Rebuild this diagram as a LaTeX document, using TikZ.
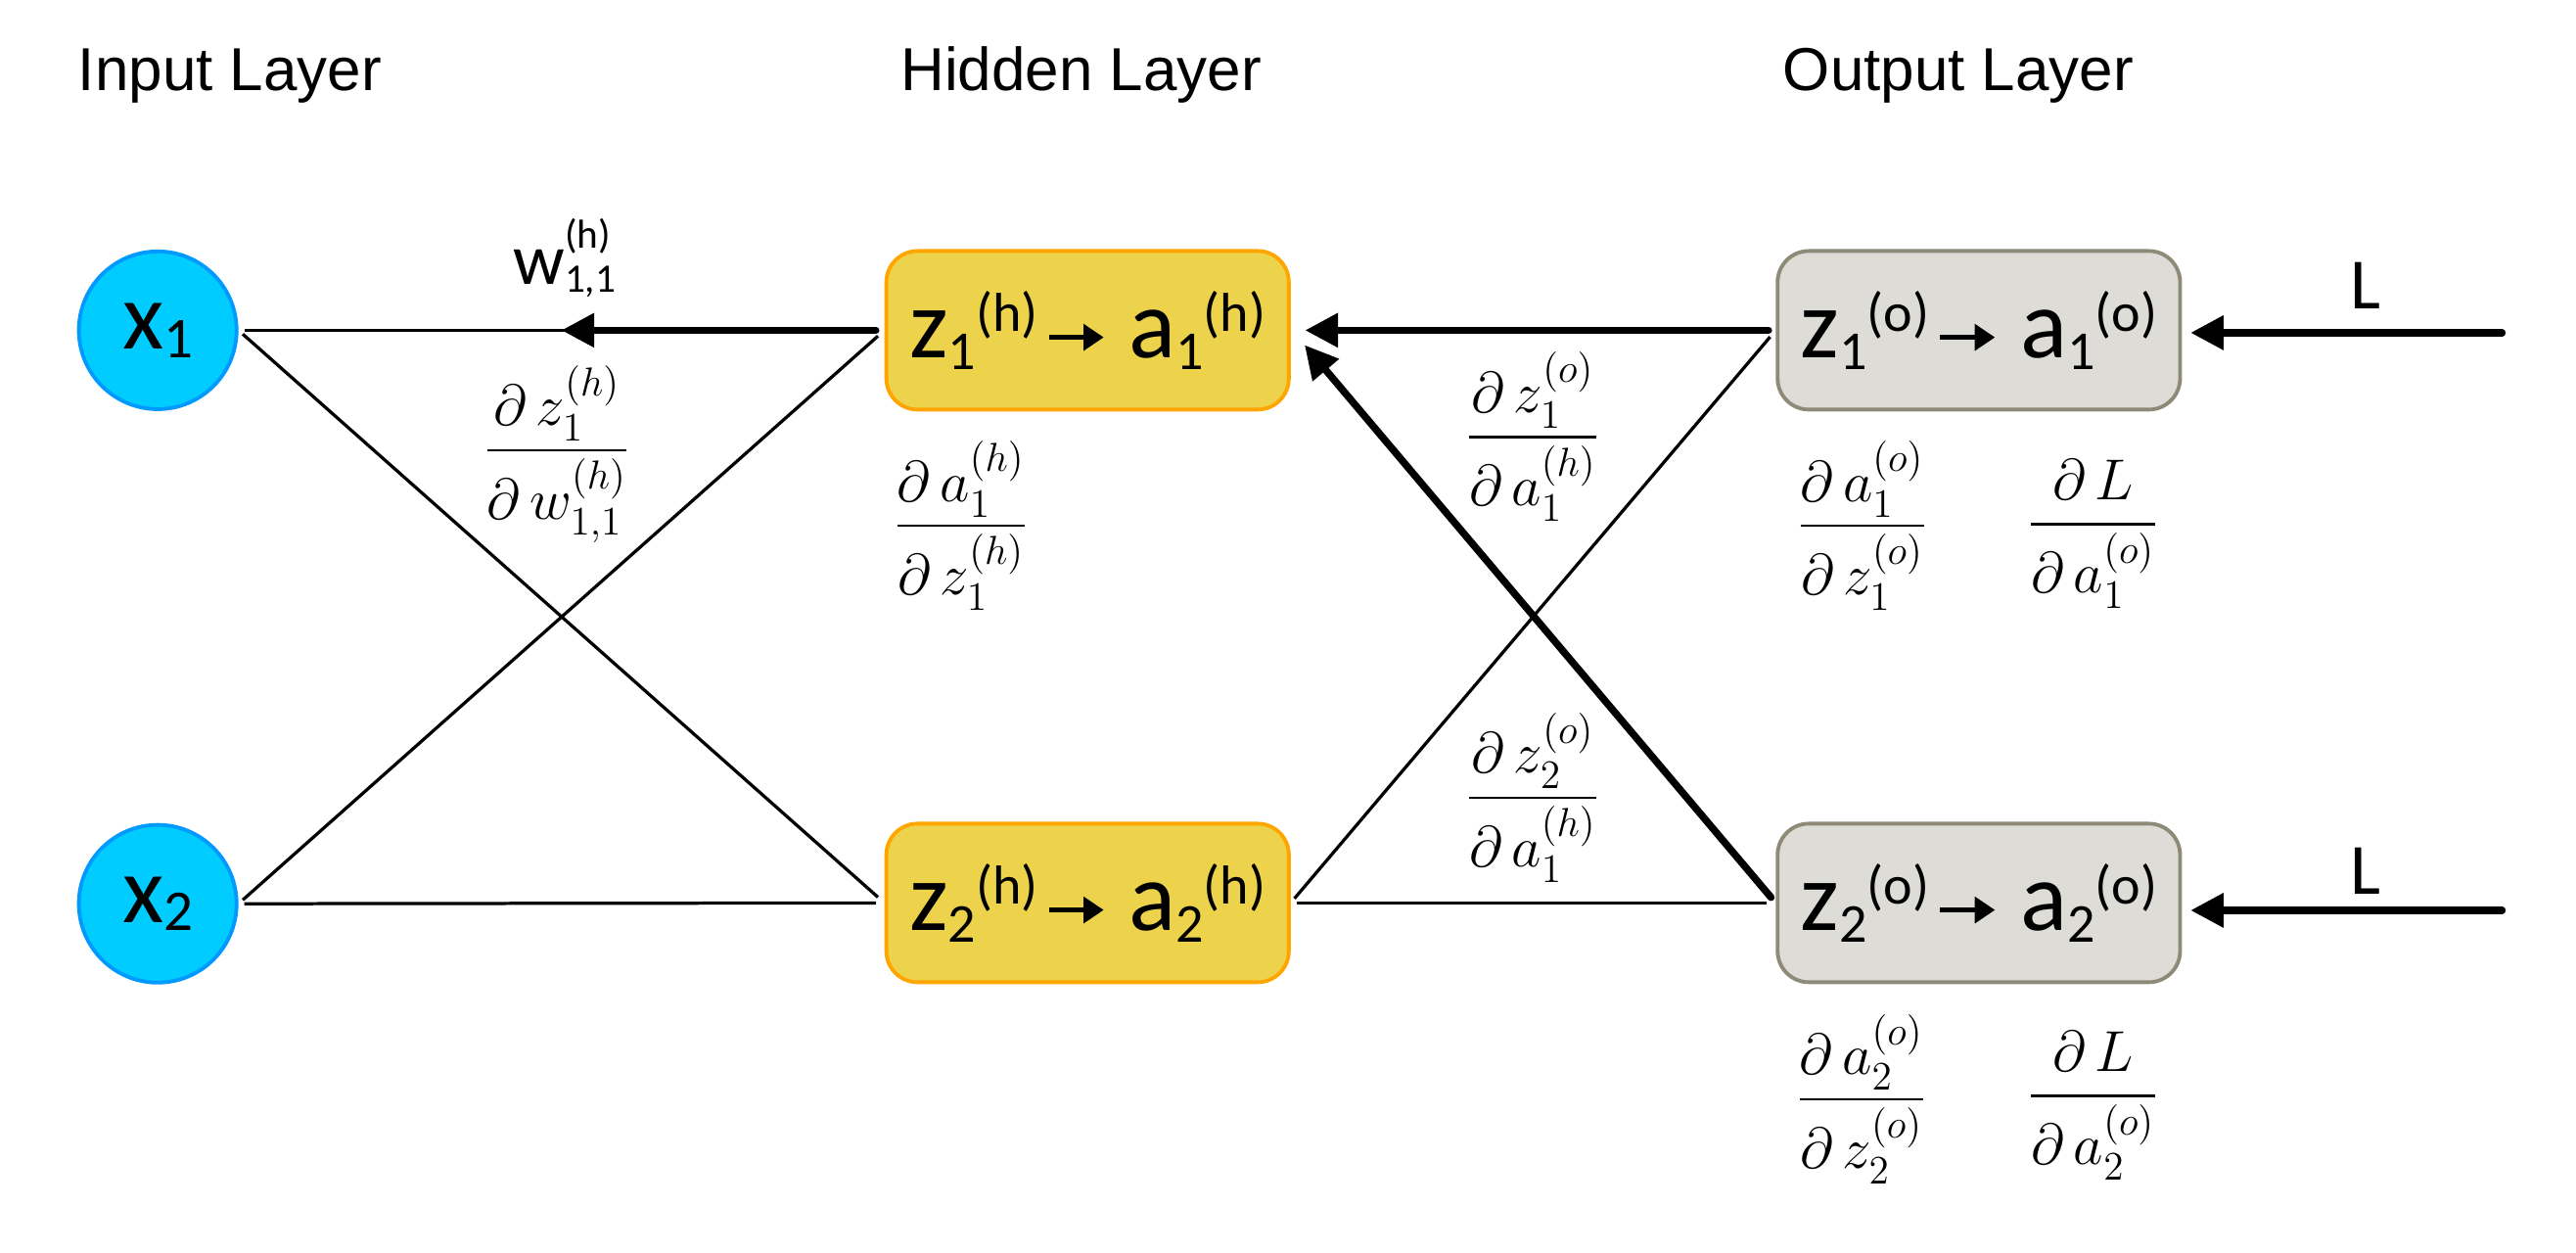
\RequirePackage{fix-cm}
\documentclass[tikz,border=0pt]{standalone}
\usepackage{amsmath}
\usepackage{fontspec}
\setmainfont{Carlito}
\newfontfamily\titlefont{Liberation Sans}
\usepackage{tikz}
\usetikzlibrary{positioning,shapes,arrows.meta}

\definecolor{inblue}{HTML}{00CCFF}
\definecolor{inedge}{HTML}{0099FF}
\definecolor{hidfill}{HTML}{EDD34B}
\definecolor{hidedge}{HTML}{FFA500}
\definecolor{outfill}{HTML}{DDDCD7}
\definecolor{outedge}{HTML}{8E8A78}

\newcommand{\sv}[3]{#1{\fontsize{19}{19}\selectfont\raisebox{-4pt}{#2}\raisebox{9pt}{(#3)}}}
\newcommand{\xs}[1]{x{\fontsize{20}{20}\selectfont\raisebox{-3pt}{#1}}}
\newcommand{\smallarr}{\hspace{3pt}\tikz[baseline=-7pt]\draw[line width=1.5pt,-{Triangle[length=7pt,width=9pt]}] (0,0)--(19pt,0);\hspace{8pt}}
\newcommand{\pd}[2]{\dfrac{\partial\,#1}{\partial\,#2}}

\begin{document}
\begin{tikzpicture}
\tikzstyle{every node}+=[inner sep=0pt]
\tikzstyle{inp}=[circle,fill=inblue,draw=inedge,line width=1.3pt,minimum size=1.92cm,font=\fontsize{33}{33}\selectfont]
\tikzstyle{hid}=[rectangle,rounded corners=0.38cm,fill=hidfill,draw=hidedge,line width=1.3pt,minimum width=4.9cm,minimum height=1.93cm,font=\fontsize{34}{34}\selectfont]
\tikzstyle{outp}=[hid,fill=outfill,draw=outedge]
\tikzstyle{layertitle}=[anchor=base west,font=\titlefont\fontsize{21}{21}\selectfont]
\tikzstyle{deriv}=[anchor=base,font=\fontsize{20}{24}\selectfont]
\tikzstyle{lossname}=[anchor=base,font=\fontsize{25}{25}\selectfont]
\tikzstyle{link}=[line width=1.1pt,shorten <=2pt,shorten >=3pt]
\tikzstyle{grad}=[line width=2.5pt,line cap=round,-{Triangle[length=0.4cm,width=0.4cm]}]

\useasboundingbox (0,0) rectangle (31.36,-15.251);

\node[layertitle] (tin) at (0.946,-1.106) {Input Layer};
\node[layertitle] (thid) at (10.96,-1.106) {Hidden Layer};
\node[layertitle] (tout) at (21.70,-1.106) {Output Layer};

\node[inp] (x1) at (1.92,-4.02) {\xs{1}};
\node[inp] (x2) at (1.92,-11.0) {\xs{2}};
\node[hid] (h1) at (13.24,-4.02) {\sv{z}{1}{h}\smallarr\sv{a}{1}{h}};
\node[hid] (h2) at (13.24,-10.99) {\sv{z}{2}{h}\smallarr\sv{a}{2}{h}};
\node[outp] (o1) at (24.09,-4.02) {\sv{z}{1}{o}\smallarr\sv{a}{1}{o}};
\node[outp] (o2) at (24.09,-10.99) {\sv{z}{2}{o}\smallarr\sv{a}{2}{o}};

\draw[link] (x1.east) -- (h1.west);
\draw[link] (x1.east) -- (h2.west);
\draw[link] (x2.east) -- (h1.west);
\draw[link] (x2.east) -- (h2.west);
\draw[link] (h2.east) -- (o1.west);
\draw[link] (h2.east) -- (o2.west);

\path (x1.east) -- (h1.west) coordinate[midway] (m1);
\draw[grad,shorten <=3pt] (h1.west) -- (m1);
\draw[grad,shorten <=2.5pt,shorten >=5pt] (o1.west) -- (h1.east);
\draw[grad,shorten <=2.5pt] (o2.west) -- ([shift={(0.17,-0.18)}]h1.east);

\coordinate (lin1) at (30.46,-4.05);
\coordinate (lin2) at (30.46,-11.08);
\draw[grad,shorten >=3pt] (lin1) -- (lin1 -| o1.east);
\draw[grad,shorten >=3pt] (lin2) -- (lin2 -| o2.east);
\node[lossname] (loss1) at (28.8,-3.76) {L};
\node[lossname] (loss2) at (28.8,-10.88) {L};

\node[anchor=base west,font=\fontsize{25}{25}\selectfont] (w11) at (6.24,-3.46)
  {w{\fontsize{14}{14}\selectfont\rlap{\raisebox{12.5pt}{(h)}}\raisebox{-2.8pt}{1,1}}};

\node[deriv] (dzw) at (6.78,-5.656) {$\pd{z_1^{(h)}}{w_{1,1}^{(h)}}$};
\node[deriv] (dah) at (11.70,-6.576) {$\pd{a_1^{(h)}}{z_1^{(h)}}$};
\node[deriv] (dzo1) at (18.66,-5.496) {$\pd{z_1^{(o)}}{a_1^{(h)}}$};
\node[deriv] (dzo2) at (18.66,-9.886) {$\pd{z_2^{(o)}}{a_1^{(h)}}$};
\node[deriv] (dao1) at (22.67,-6.576) {$\pd{a_1^{(o)}}{z_1^{(o)}}$};
\node[deriv] (dL1) at (25.48,-6.556) {$\pd{L}{a_1^{(o)}}$};
\node[deriv] (dao2) at (22.66,-13.556) {$\pd{a_2^{(o)}}{z_2^{(o)}}$};
\node[deriv] (dL2) at (25.48,-13.516) {$\pd{L}{a_2^{(o)}}$};
\end{tikzpicture}
\end{document}
